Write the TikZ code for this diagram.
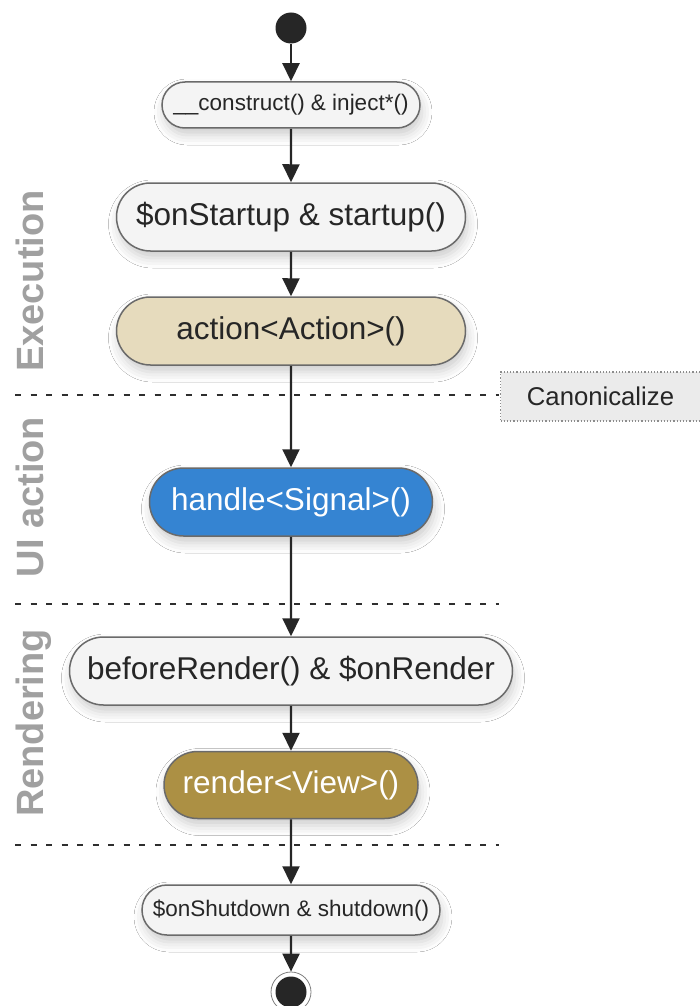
\documentclass[tikz,border=0pt]{standalone}
\usepackage{fontspec}
\setmainfont{Liberation Sans}
\usetikzlibrary{shapes.misc,arrows.meta,shadows.blur}
\definecolor{nodefill}{HTML}{F4F4F4}
\definecolor{nodeline}{HTML}{6A6A6A}
\definecolor{actfill}{HTML}{E6DBBD}
\definecolor{sigfill}{HTML}{3584D2}
\definecolor{viewfill}{HTML}{AC9044}
\definecolor{sidegray}{HTML}{A0A0A0}
\definecolor{canfill}{HTML}{EBEBEB}
\definecolor{dashcol}{HTML}{2E2E2E}
\definecolor{ink}{HTML}{262626}
\tikzset{
  stadium/.style={rounded rectangle, draw=nodeline, line width=1.5pt, fill=nodefill,
    inner sep=0pt, text=ink,
    blur shadow={shadow xshift=2pt, shadow yshift=-7pt, shadow blur radius=10pt, shadow opacity=20}},
  bigtxt/.style={font=\fontsize{31.5}{36}\selectfont},
  smalltxt/.style={font=\fontsize{22.5}{26}\selectfont},
  sidelabel/.style={rotate=90, anchor=base, text=sidegray, font=\fontsize{38}{42}\selectfont\bfseries},
  sep/.style={dashcol, line width=2.7pt, dash pattern=on 6pt off 9.5pt},
  arr/.style={ink, line width=2.2pt, -{Triangle[length=18pt,width=17pt]}},
}
\begin{document}
\begin{tikzpicture}[x=1pt,y=-1pt]
\useasboundingbox[fill=white] (0,0) rectangle (699,1006);
% section separators
\coordinate (d1a) at (15,395); \coordinate (d1b) at (499,395);
\coordinate (d2a) at (15,604); \coordinate (d2b) at (499,604);
\coordinate (d3a) at (15,845); \coordinate (d3b) at (499,845);
\draw[sep] (d1a) -- (d1b);
\draw[sep] (d2a) -- (d2b);
\draw[sep] (d3a) -- (d3b);
% side labels
\node[sidelabel] (lexe) at (43,281) {Execution};
\node[sidelabel] (lui) at (43,497) {UI action};
\node[sidelabel] (lren) at (43,723) {Rendering};
% canonicalize box
\node[draw=gray!90, dotted, line width=1.2pt, fill=canfill, minimum width=200pt, minimum height=49pt,
  inner sep=0pt, font=\fontsize{25.7}{30}\selectfont, text=ink] (can) at (600.5,396.5) {Canonicalize};
% start / end
\node[circle, fill=ink, minimum size=31pt, inner sep=0pt] (start) at (291,28) {};
\node[circle, draw=gray, line width=0.8pt, fill=white, minimum size=40pt, inner sep=0pt] (end) at (291,992) {};
\node[circle, fill=ink, minimum size=31pt, inner sep=0pt] (endin) at (291,992) {};
% nodes
\node[stadium, smalltxt, minimum width=258pt, minimum height=46pt] (n1) at (291,105) {\_\_construct() \& inject*()};
\node[stadium, bigtxt, minimum width=349pt, minimum height=68pt] (n2) at (291,217) {\$onStartup \& startup()};
\node[stadium, bigtxt, fill=actfill, minimum width=349pt, minimum height=68pt] (n3) at (291,331) {action<Action>()};
\node[stadium, bigtxt, fill=sigfill, text=white, minimum width=283pt, minimum height=68pt] (n4) at (291,502) {handle<Signal>()};
\node[stadium, bigtxt, minimum width=443pt, minimum height=68pt] (n5) at (291,671) {beforeRender() \& \$onRender};
\node[stadium, bigtxt, fill=viewfill, text=white, minimum width=254pt, minimum height=67pt] (n6) at (291,785) {render<View>()};
\node[stadium, smalltxt, minimum width=298pt, minimum height=50pt] (n7) at (291,910) {\$onShutdown \& shutdown()};
% connectors
\draw[arr] (start) -- (n1);
\draw[arr] (n1) -- (n2);
\draw[arr] (n2) -- (n3);
\draw[arr] (n3) -- (n4);
\draw[arr] (n4) -- (n5);
\draw[arr] (n5) -- (n6);
\draw[arr] (n6) -- (n7);
\draw[arr] (n7) -- (end);
\end{tikzpicture}
\end{document}
